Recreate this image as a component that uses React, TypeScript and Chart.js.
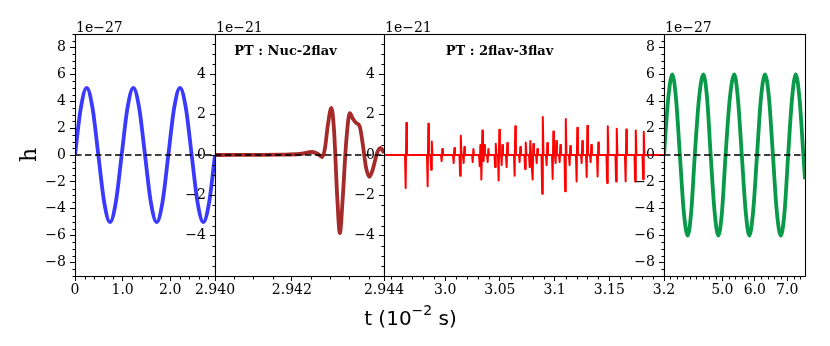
import React, { useEffect, useRef } from "react";
import { Chart, registerables } from "chart.js";

Chart.register(...registerables);

// ---------------- data ----------------
// panel 1 (blue, 1e-27)
const blueT = [0, 0.1225, 0.245, 0.3675, 0.49, 0.6125, 0.735, 0.8575, 0.98, 1.1025, 1.225, 1.3475, 1.47, 1.5925, 1.715, 1.8375, 1.96, 2.0825, 2.205, 2.3275, 2.45, 2.5725, 2.695, 2.8175, 2.94];
const blueH = [0, 3.5, 5, 3.5, 0, -3.5, -5, -3.5, 0, 3.5, 5, 3.5, 0, -3.5, -5, -3.5, 0, 3.5, 5, 3.5, 0, -3.5, -5, -3.5, 0];

// panel 2 (brown, 1e-21) PT : Nuc-2flav
const brownT = [2.94, 2.9417, 2.9422, 2.94253, 2.94268, 2.94279, 2.94286, 2.94294, 2.94303, 2.9431, 2.94318, 2.94325, 2.94333, 2.94341, 2.94351, 2.94359, 2.94367, 2.94377, 2.94385, 2.94393, 2.94402, 2.94411, 2.94422, 2.94431, 2.9444];
const brownH = [0, 0.02, 0.05, 0.15, 0.05, -0.1, 0.3, 1.5, 2.33, 1.2, -2.0, -3.87, -2.0, 0.5, 2.08, 1.8, 1.6, 1.4, 0.5, -0.6, -1.08, -0.7, 0.1, 0.35, 0.1];

// panel 3 (red, 1e-21) PT : 2flav-3flav — spike events
const spikeT = [2.9641, 2.9842, 2.9874, 2.997, 3.008, 3.0139, 3.0171, 3.0254, 3.0318, 3.0336, 3.0354, 3.0391, 3.0459, 3.0491, 3.0519, 3.0564, 3.0637, 3.0683, 3.0733, 3.0775, 3.0802, 3.0839, 3.0889, 3.093, 3.0985, 3.1012, 3.1049, 3.1099, 3.114, 3.1204, 3.125, 3.1296, 3.1332, 3.1396, 3.1483, 3.1565, 3.1652, 3.1739, 3.1812];
const spikeUp = [1.59, 1.55, 0.67, 0.3, 0.35, 0.96, 0.4, 0.3, 0.5, 1.22, 0.5, 0.3, 0.56, 1.25, 0.5, 0.6, 1.42, 0.4, 0.62, 0.7, 0.55, 0.3, 1.88, 0.6, 1.17, 0.7, 0.5, 1.78, 0.45, 1.35, 0.7, 1.45, 0.5, 0.62, 1.42, 1.3, 1.27, 1.22, 1.15];
const spikeDown = [-1.64, -1.55, -0.73, -0.3, -0.4, -1.03, -0.4, -0.35, -0.56, -1.22, -0.3, -0.35, -0.6, -1.26, -0.5, -0.6, -1.03, -0.35, -0.7, -0.6, -1.22, -0.4, -1.92, -0.5, -1.19, -0.4, -0.35, -1.8, -0.5, -1.31, -0.4, -1.09, -0.35, -1.06, -1.39, -1.31, -1.31, -1.31, -1.2];

// panel 4 (green, 1e-27)
const greenT = [3.2, 3.33, 3.456, 3.57, 3.69, 3.81, 3.931, 4.04, 4.15, 4.28, 4.413, 4.53, 4.64, 4.76, 4.876, 4.99, 5.1, 5.23, 5.37, 5.48, 5.6, 5.72, 5.833, 5.95, 6.07, 6.19, 6.317, 6.44, 6.56, 6.68, 6.802, 6.92, 7.03, 7.15, 7.265, 7.38, 7.5, 7.55];
const greenH = [0, 4.2, 6, 4.2, 0, -4.2, -6, -4.2, 0, 4.2, 6, 4.2, 0, -4.2, -6, -4.2, 0, 4.2, 6, 4.2, 0, -4.2, -6, -4.2, 0, 4.2, 6, 4.2, 0, -4.2, -6, -4.2, 0, 4.2, 6, 4.2, 0, -1.8];

// axes
const xRanges = [[0, 2.94], [2.94, 2.9444], [2.944, 3.2], [3.2, 7.55]];
const yRanges = [[-9, 9], [-6, 6], [-6, 6], [-9, 9]];
const xTicks = [[0, 1, 2], [2.94, 2.942], [2.944, 3.0, 3.05, 3.1, 3.15], [3.2, 5, 6, 7]];
const xTickLabels = [["0", "1.0", "2.0"], ["2.940", "2.942"], ["2.944", "3.0", "3.05", "3.1", "3.15"], ["3.2", "5.0", "6.0", "7.0"]];
const yTicksOuter = [-8, -6, -4, -2, 0, 2, 4, 6, 8];
const yTicksInner = [-4, -2, 0, 2, 4];
const xMinorSteps = [0.2, 0.0005, 0.01, 0.2];
const yMinorStep = 0.5;

// texts
const offsetTexts = ["1e\u221227", "1e\u221221", "1e\u221221", "1e\u221227"];
const panelTitles = ["", "PT : Nuc-2flav", "PT : 2flav-3flav", ""];
const yAxisLabel = "h";
const xAxisLabelParts = ["t (10", "\u22122", " s)"];

// ---------------- styling / layout ----------------
const SERIF = '"DejaVu Serif", "Liberation Serif", serif';
const SANS = '"DejaVu Sans", sans-serif';
const H = 346;
const FRAME_TOP = 34;
const FRAME_BOTTOM = 276;
const panelBox = [
  { left: 75, right: 215, padL: 75, padR: 0 },
  { left: 215, right: 384, padL: 45, padR: 0 },
  { left: 384, right: 664, padL: 45, padR: 0 },
  { left: 664, right: 805, padL: 45, padR: 25 },
];
const titleOffsets = [0, 70.5, 115.5, 0];

function fmtY(v: number) {
  return v < 0 ? "\u2212" + Math.abs(v) : String(v);
}

function xy(ts: number[], hs: number[]) {
  return ts.map((t, i) => ({ x: t, y: hs[i] }));
}

function redPoints() {
  const pts: { x: number; y: number }[] = [{ x: xRanges[2][0], y: 0 }];
  spikeT.forEach((t, i) => {
    pts.push({ x: t - 0.0009, y: 0 });
    pts.push({ x: t - 0.0003, y: spikeDown[i] });
    pts.push({ x: t + 0.0003, y: spikeUp[i] });
    pts.push({ x: t + 0.0009, y: 0 });
  });
  pts.push({ x: xRanges[2][1], y: 0 });
  return pts;
}

function zeroLine(i: number) {
  return {
    data: [{ x: xRanges[i][0], y: 0 }, { x: xRanges[i][1], y: 0 }],
    borderColor: "#000",
    borderWidth: 1.6,
    borderDash: [6.5, 3.5],
    pointRadius: 0,
    clip: 0,
    tension: 0,
  };
}

function curve(data: any, color: string, width: number, smooth: boolean) {
  return {
    data,
    borderColor: color,
    borderWidth: width,
    pointRadius: 0,
    clip: 0,
    borderJoinStyle: "round",
    borderCapStyle: "butt",
    cubicInterpolationMode: smooth ? "monotone" : "default",
    tension: 0,
  };
}

function datasetsFor(i: number) {
  if (i === 0) return [zeroLine(0), curve(xy(blueT, blueH), "#3a3aff", 3.8, true)];
  if (i === 1) return [zeroLine(1), curve(xy(brownT, brownH), "#a52a2a", 3.8, true)];
  if (i === 2) return [curve(redPoints(), "#ff0000", 2, false), zeroLine(2)];
  return [zeroLine(3), curve(xy(greenT, greenH), "#089a48", 3.8, true)];
}

function decorPlugin(i: number) {
  return {
    id: "decor" + i,
    afterDraw(chart: any) {
      const ctx: CanvasRenderingContext2D = chart.ctx;
      const a = chart.chartArea;
      const xs = chart.scales.x;
      const ys = chart.scales.y;
      const L = Math.floor(a.left) + 0.5;
      const R = Math.floor(a.right) + 0.5;
      const T = Math.floor(a.top) + 0.5;
      const B = Math.floor(a.bottom) + 0.5;
      ctx.save();
      ctx.strokeStyle = "#000";
      ctx.lineWidth = 1;
      // minor ticks x
      const xst = xMinorSteps[i];
      const [x0, x1] = xRanges[i];
      const majX = xTicks[i];
      for (let k = Math.ceil(x0 / xst - 1e-6); k <= Math.floor(x1 / xst + 1e-6); k++) {
        const v = k * xst;
        if (majX.some((m) => Math.abs(m - v) < xst * 0.05)) continue;
        const px = Math.round(xs.getPixelForValue(v)) + 0.5;
        ctx.beginPath();
        ctx.moveTo(px, B);
        ctx.lineTo(px, B + 3);
        ctx.stroke();
      }
      // minor ticks y
      const [y0, y1] = yRanges[i];
      const majY = i === 0 || i === 3 ? yTicksOuter : yTicksInner;
      for (let k = Math.ceil(y0 / yMinorStep); k <= Math.floor(y1 / yMinorStep); k++) {
        const v = k * yMinorStep;
        if (majY.some((m) => Math.abs(m - v) < 1e-6)) continue;
        const py = Math.round(ys.getPixelForValue(v)) + 0.5;
        ctx.beginPath();
        ctx.moveTo(L, py);
        ctx.lineTo(L - 3, py);
        ctx.stroke();
      }
      // frame
      ctx.lineWidth = 1.1;
      ctx.strokeRect(L, T, R - L, B - T);
      // offset text
      ctx.fillStyle = "#000";
      ctx.font = `14px ${SERIF}`;
      ctx.textAlign = "left";
      ctx.textBaseline = "alphabetic";
      ctx.fillText(offsetTexts[i], a.left + 1, a.top - 2.5);
      // panel title
      if (panelTitles[i]) {
        ctx.font = `bold 13px ${SERIF}`;
        ctx.textAlign = "center";
        ctx.fillText(panelTitles[i], a.left + titleOffsets[i], 55);
      }
      // y label
      if (i === 0) {
        ctx.save();
        ctx.translate(a.left - 45, (a.top + a.bottom) / 2);
        ctx.rotate(-Math.PI / 2);
        ctx.font = `22px ${SERIF}`;
        ctx.textAlign = "center";
        ctx.textBaseline = "middle";
        ctx.fillText(yAxisLabel, 0, 0);
        ctx.restore();
      }
      // x label
      if (i === 2) {
        ctx.textAlign = "left";
        ctx.font = `20px ${SANS}`;
        const w1 = ctx.measureText(xAxisLabelParts[0]).width;
        const w3 = ctx.measureText(xAxisLabelParts[2]).width;
        ctx.font = `14px ${SANS}`;
        const w2 = ctx.measureText(xAxisLabelParts[1]).width;
        const cx = a.left + 26.5;
        const sx = cx - (w1 + w2 + w3) / 2;
        ctx.font = `20px ${SANS}`;
        ctx.fillText(xAxisLabelParts[0], sx, 325);
        ctx.font = `14px ${SANS}`;
        ctx.fillText(xAxisLabelParts[1], sx + w1, 315);
        ctx.font = `20px ${SANS}`;
        ctx.fillText(xAxisLabelParts[2], sx + w1 + w2, 325);
      }
      ctx.restore();
    },
  };
}

function buildConfig(i: number): any {
  const box = panelBox[i];
  const yt = i === 0 || i === 3 ? yTicksOuter : yTicksInner;
  const tickFont = { family: SERIF, size: 14 };
  return {
    type: "line",
    data: { datasets: datasetsFor(i) },
    options: {
      responsive: false,
      maintainAspectRatio: false,
      devicePixelRatio: 1,
      animation: false,
      events: [],
      layout: { padding: { top: FRAME_TOP, left: 0, right: box.padR, bottom: 0 } },
      plugins: { legend: { display: false }, tooltip: { enabled: false }, title: { display: false } },
      scales: {
        x: {
          type: "linear",
          position: "bottom",
          min: xRanges[i][0],
          max: xRanges[i][1],
          afterBuildTicks: (s: any) => {
            s.ticks = xTicks[i].map((v) => ({ value: v }));
          },
          afterFit: (s: any) => {
            s.height = H - FRAME_BOTTOM;
            s.paddingLeft = 0;
            s.paddingRight = 0;
          },
          ticks: {
            autoSkip: false,
            maxRotation: 0,
            minRotation: 0,
            padding: 1,
            color: "#000",
            font: tickFont,
            callback: (_v: any, idx: number) => xTickLabels[i][idx],
          },
          grid: { display: true, drawOnChartArea: false, drawTicks: true, tickLength: 5, tickColor: "#000", tickWidth: 1 },
          border: { display: false },
        },
        y: {
          type: "linear",
          position: "left",
          min: yRanges[i][0],
          max: yRanges[i][1],
          afterBuildTicks: (s: any) => {
            s.ticks = yt.map((v) => ({ value: v }));
          },
          afterFit: (s: any) => {
            s.width = box.padL;
            s.paddingTop = 0;
            s.paddingBottom = 0;
          },
          ticks: {
            autoSkip: false,
            padding: 4,
            color: "#000",
            font: tickFont,
            callback: (v: any) => fmtY(v),
          },
          grid: { display: true, drawOnChartArea: false, drawTicks: true, tickLength: 5, tickColor: "#000", tickWidth: 1 },
          border: { display: false },
        },
      },
    },
    plugins: [decorPlugin(i)],
  };
}

export default function App() {
  const r0 = useRef<HTMLCanvasElement>(null);
  const r1 = useRef<HTMLCanvasElement>(null);
  const r2 = useRef<HTMLCanvasElement>(null);
  const r3 = useRef<HTMLCanvasElement>(null);
  const refs = [r0, r1, r2, r3];

  useEffect(() => {
    const charts = refs.map((r, i) => new Chart(r.current as HTMLCanvasElement, buildConfig(i)));
    return () => charts.forEach((c) => c.destroy());
  }, []);

  return (
    <div style={{ position: "absolute", left: 0, top: 0, width: 830, height: H, background: "#fff", overflow: "hidden" }}>
      {panelBox.map((b, i) => {
        const w = b.right - b.left + b.padL + b.padR;
        return (
          <canvas
            key={i}
            ref={refs[i]}
            width={w}
            height={H}
            style={{ position: "absolute", left: b.left - b.padL, top: 0, width: w, height: H }}
          />
        );
      })}
    </div>
  );
}
